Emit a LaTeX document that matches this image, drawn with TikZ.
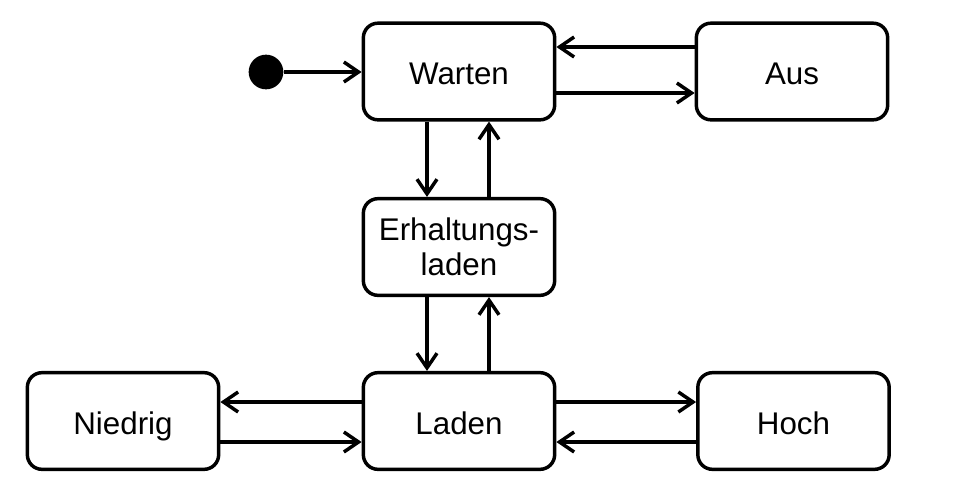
\documentclass[tikz,border=0pt]{standalone}
\usepackage{fontspec}
\setmainfont{Liberation Sans}
\usetikzlibrary{arrows.meta}
\begin{document}
\begin{tikzpicture}[x=0.75pt,y=-0.75pt,
  state/.style={draw,line width=2.6pt,rounded corners=11pt,minimum width=143.5pt,minimum height=72.5pt,
    align=center,inner sep=0pt,font=\fontsize{23.5}{26}\selectfont},
  oneline/.style={text height=20pt,text depth=0pt},
  tr/.style={line width=2.6pt,-{Straight Barb[length=11pt,width=15pt]}}]
\useasboundingbox (0,0) rectangle (954,500);
\node[state,oneline] (warten) at (459,71.5) {Warten};
\node[state,oneline] (aus) at (792,71.5) {Aus};
\node[state] (erh) at (459,247) {Erhaltungs-\\laden};
\node[state,oneline] (laden) at (459,421) {Laden};
\node[state,oneline] (niedrig) at (123,421) {Niedrig};
\node[state,oneline] (hoch) at (793.5,421) {Hoch};
\node[circle,fill=black,minimum size=26pt,inner sep=0pt] (init) at (266,72) {};
\draw[tr] (init.east) -- (warten.west |- init.east);
% Warten <-> Aus
\draw[tr] (aus.west |- 0,47) -- (warten.east |- 0,47);
\draw[tr] (warten.east |- 0,93) -- (aus.west |- 0,93);
% Warten <-> Erh
\draw[tr] (warten.south -| 427,0) -- (erh.north -| 427,0);
\draw[tr] (erh.north -| 489,0) -- (warten.south -| 489,0);
% Erh <-> Laden
\draw[tr] (erh.south -| 427,0) -- (laden.north -| 427,0);
\draw[tr] (laden.north -| 489,0) -- (erh.south -| 489,0);
% Laden <-> Niedrig
\draw[tr] (laden.west |- 0,402) -- (niedrig.east |- 0,402);
\draw[tr] (niedrig.east |- 0,442) -- (laden.west |- 0,442);
% Laden <-> Hoch
\draw[tr] (laden.east |- 0,402) -- (hoch.west |- 0,402);
\draw[tr] (hoch.west |- 0,442) -- (laden.east |- 0,442);
\end{tikzpicture}
\end{document}
